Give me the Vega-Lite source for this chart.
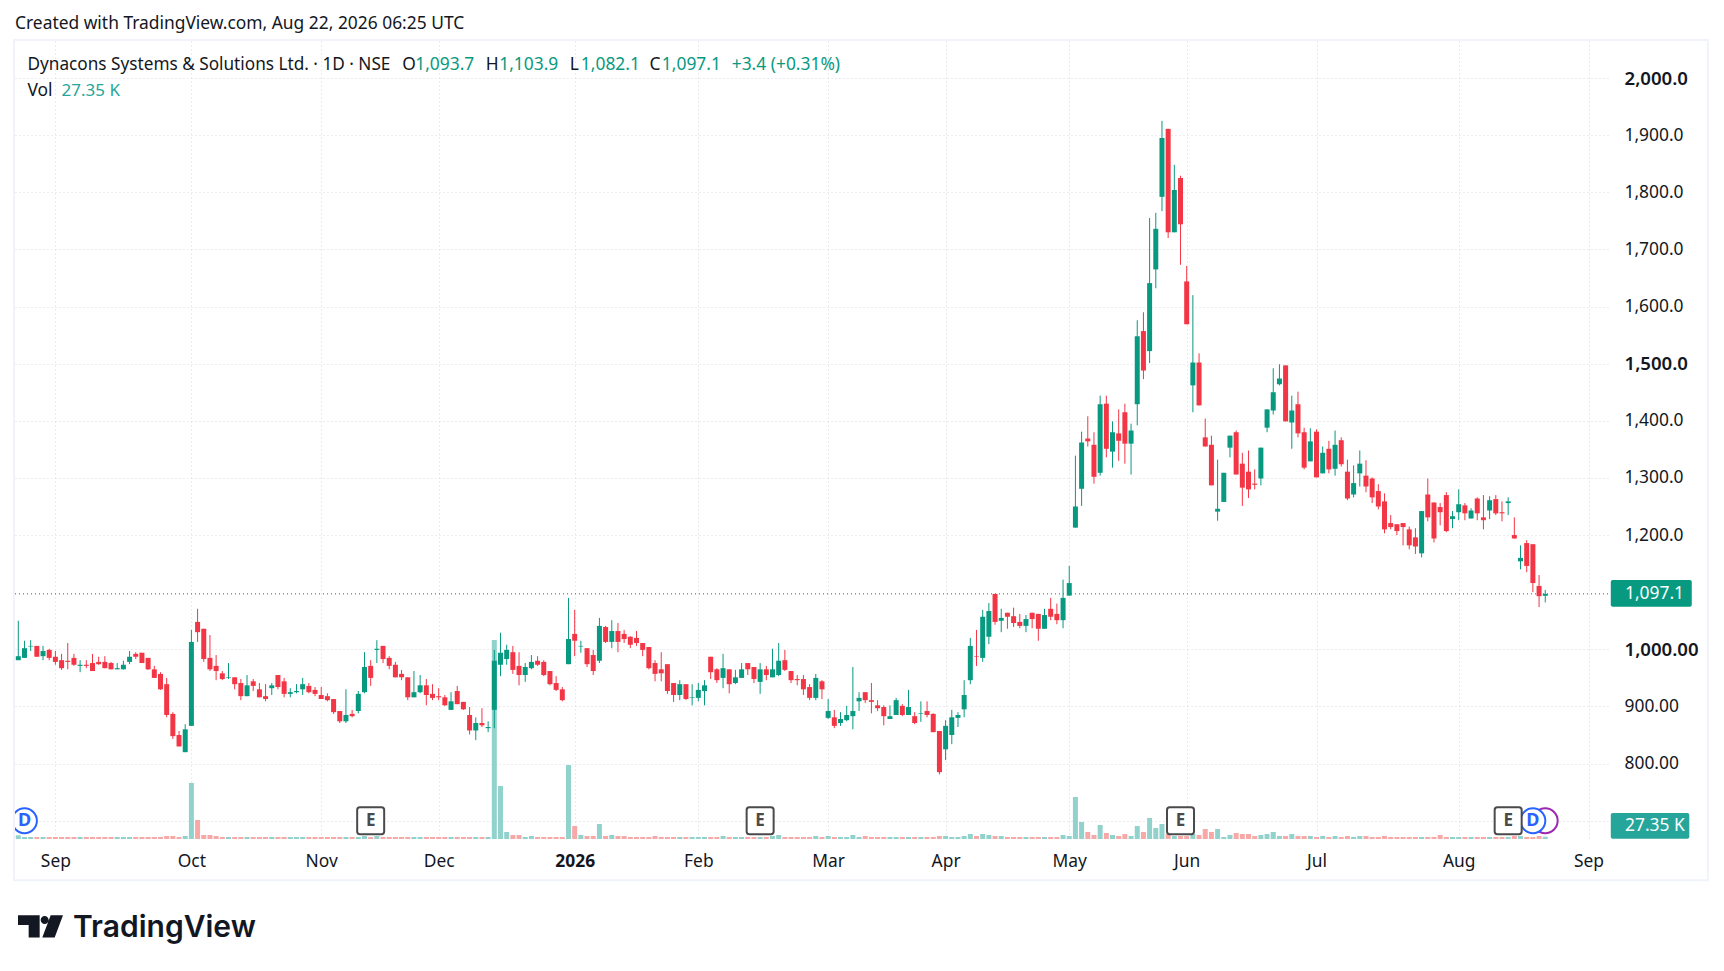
{"$schema":"https://vega.github.io/schema/vega-lite/v6.json",
"width":1593,"height":798,"autosize":{"type":"none"},"padding":{"left":15,"top":41,"right":116,"bottom":132},
"background":"white","view":{"stroke":null},
"config":{"text":{"font":"Noto Sans","fontSize":17.4,"baseline":"middle","align":"left"}},
"title":{"text":"Created with TradingView.com, Aug 22, 2026 06:25 UTC","anchor":"start","frame":"group","font":"Noto Sans","fontSize":17.4,"fontWeight":"normal","color":"#131722","offset":7},
"datasets":{
"ohlc":[
{"i":0,"open":981,"high":1050,"low":981,"close":988,"vol":44},
{"i":1,"open":985,"high":1015,"low":985,"close":1002,"vol":24},
{"i":2,"open":1005,"high":1016,"low":997,"close":1006,"vol":24},
{"i":3,"open":1006,"high":1006,"low":987,"close":987,"vol":24},
{"i":4,"open":988,"high":1006,"low":981,"close":997,"vol":24},
{"i":5,"open":999,"high":1001,"low":981,"close":985,"vol":24},
{"i":6,"open":987,"high":997,"low":973,"close":978,"vol":24},
{"i":7,"open":981,"high":992,"low":964,"close":967,"vol":24},
{"i":8,"open":980,"high":1011,"low":965,"close":978,"vol":24},
{"i":9,"open":985,"high":992,"low":971,"close":973,"vol":24},
{"i":10,"open":971,"high":981,"low":960,"close":973,"vol":24},
{"i":11,"open":973,"high":981,"low":967,"close":971,"vol":24},
{"i":12,"open":976,"high":992,"low":962,"close":962,"vol":24},
{"i":13,"open":978,"high":987,"low":973,"close":974,"vol":24},
{"i":14,"open":978,"high":988,"low":967,"close":967,"vol":24},
{"i":15,"open":976,"high":978,"low":965,"close":965,"vol":24},
{"i":16,"open":965,"high":976,"low":965,"close":967,"vol":24},
{"i":17,"open":965,"high":980,"low":965,"close":973,"vol":24},
{"i":18,"open":978,"high":997,"low":974,"close":987,"vol":24},
{"i":19,"open":992,"high":995,"low":983,"close":987,"vol":24},
{"i":20,"open":994,"high":994,"low":976,"close":976,"vol":24},
{"i":21,"open":985,"high":985,"low":964,"close":965,"vol":24},
{"i":22,"open":965,"high":971,"low":950,"close":950,"vol":24},
{"i":23,"open":957,"high":960,"low":929,"close":930,"vol":24},
{"i":24,"open":939,"high":950,"low":881,"close":885,"vol":36},
{"i":25,"open":887,"high":890,"low":843,"close":848,"vol":36},
{"i":26,"open":850,"high":857,"low":830,"close":830,"vol":24},
{"i":27,"open":820,"high":869,"low":820,"close":860,"vol":36},
{"i":28,"open":866,"high":1034,"low":866,"close":1013,"vol":672},
{"i":29,"open":1048,"high":1071,"low":1013,"close":1030,"vol":228},
{"i":30,"open":1036,"high":1036,"low":978,"close":983,"vol":48},
{"i":31,"open":985,"high":1025,"low":962,"close":965,"vol":48},
{"i":32,"open":971,"high":990,"low":946,"close":962,"vol":36},
{"i":33,"open":958,"high":962,"low":946,"close":948,"vol":24},
{"i":34,"open":950,"high":976,"low":948,"close":951,"vol":24},
{"i":35,"open":951,"high":951,"low":930,"close":939,"vol":24},
{"i":36,"open":941,"high":948,"low":911,"close":918,"vol":24},
{"i":37,"open":918,"high":955,"low":918,"close":937,"vol":24},
{"i":38,"open":944,"high":948,"low":927,"close":936,"vol":24},
{"i":39,"open":930,"high":941,"low":916,"close":916,"vol":24},
{"i":40,"open":918,"high":939,"low":909,"close":913,"vol":24},
{"i":41,"open":932,"high":941,"low":920,"close":937,"vol":24},
{"i":42,"open":955,"high":955,"low":930,"close":934,"vol":24},
{"i":43,"open":944,"high":950,"low":916,"close":922,"vol":24},
{"i":44,"open":922,"high":932,"low":916,"close":925,"vol":24},
{"i":45,"open":925,"high":939,"low":923,"close":927,"vol":24},
{"i":46,"open":930,"high":950,"low":920,"close":939,"vol":24},
{"i":47,"open":936,"high":941,"low":923,"close":925,"vol":24},
{"i":48,"open":929,"high":934,"low":918,"close":922,"vol":24},
{"i":49,"open":920,"high":934,"low":913,"close":913,"vol":24},
{"i":50,"open":918,"high":923,"low":909,"close":911,"vol":24},
{"i":51,"open":913,"high":913,"low":887,"close":890,"vol":24},
{"i":52,"open":892,"high":892,"low":871,"close":874,"vol":24},
{"i":53,"open":874,"high":930,"low":871,"close":885,"vol":24},
{"i":54,"open":887,"high":894,"low":881,"close":883,"vol":24},
{"i":55,"open":892,"high":927,"low":888,"close":922,"vol":24},
{"i":56,"open":925,"high":995,"low":923,"close":969,"vol":36},
{"i":57,"open":971,"high":981,"low":936,"close":950,"vol":24},
{"i":58,"open":999,"high":1016,"low":976,"close":1001,"vol":36},
{"i":59,"open":1006,"high":1006,"low":976,"close":983,"vol":24},
{"i":60,"open":985,"high":988,"low":965,"close":971,"vol":24},
{"i":61,"open":973,"high":978,"low":951,"close":951,"vol":24},
{"i":62,"open":957,"high":964,"low":946,"close":951,"vol":24},
{"i":63,"open":951,"high":951,"low":911,"close":916,"vol":24},
{"i":64,"open":916,"high":962,"low":916,"close":925,"vol":24},
{"i":65,"open":925,"high":955,"low":923,"close":937,"vol":24},
{"i":66,"open":937,"high":948,"low":902,"close":920,"vol":24},
{"i":67,"open":922,"high":939,"low":911,"close":915,"vol":24},
{"i":68,"open":918,"high":932,"low":911,"close":916,"vol":24},
{"i":69,"open":916,"high":920,"low":901,"close":902,"vol":24},
{"i":70,"open":894,"high":925,"low":894,"close":909,"vol":24},
{"i":71,"open":927,"high":936,"low":904,"close":904,"vol":24},
{"i":72,"open":908,"high":908,"low":894,"close":895,"vol":24},
{"i":73,"open":885,"high":899,"low":851,"close":858,"vol":24},
{"i":74,"open":858,"high":881,"low":841,"close":871,"vol":24},
{"i":75,"open":871,"high":897,"low":864,"close":867,"vol":24},
{"i":76,"open":862,"high":874,"low":855,"close":864,"vol":24},
{"i":77,"open":894,"high":999,"low":862,"close":980,"vol":2388},
{"i":78,"open":973,"high":1029,"low":953,"close":994,"vol":636},
{"i":79,"open":983,"high":1008,"low":973,"close":999,"vol":84},
{"i":80,"open":995,"high":1006,"low":957,"close":964,"vol":48},
{"i":81,"open":971,"high":995,"low":937,"close":955,"vol":48},
{"i":82,"open":955,"high":976,"low":943,"close":969,"vol":24},
{"i":83,"open":967,"high":990,"low":965,"close":978,"vol":36},
{"i":84,"open":980,"high":988,"low":971,"close":973,"vol":24},
{"i":85,"open":978,"high":981,"low":953,"close":955,"vol":24},
{"i":86,"open":962,"high":962,"low":937,"close":939,"vol":24},
{"i":87,"open":941,"high":953,"low":927,"close":929,"vol":24},
{"i":88,"open":930,"high":934,"low":909,"close":911,"vol":24},
{"i":89,"open":974,"high":1090,"low":974,"close":1018,"vol":888},
{"i":90,"open":1027,"high":1069,"low":988,"close":1015,"vol":156},
{"i":91,"open":1005,"high":1015,"low":994,"close":1006,"vol":48},
{"i":92,"open":1002,"high":1002,"low":969,"close":974,"vol":36},
{"i":93,"open":990,"high":999,"low":955,"close":962,"vol":36},
{"i":94,"open":980,"high":1055,"low":976,"close":1041,"vol":180},
{"i":95,"open":1039,"high":1041,"low":1011,"close":1013,"vol":36},
{"i":96,"open":1013,"high":1051,"low":1002,"close":1032,"vol":48},
{"i":97,"open":1032,"high":1046,"low":995,"close":1013,"vol":36},
{"i":98,"open":1027,"high":1034,"low":1011,"close":1018,"vol":36},
{"i":99,"open":1022,"high":1023,"low":1002,"close":1008,"vol":24},
{"i":100,"open":1020,"high":1032,"low":1006,"close":1011,"vol":24},
{"i":101,"open":1011,"high":1011,"low":988,"close":999,"vol":24},
{"i":102,"open":1004,"high":1004,"low":965,"close":967,"vol":24},
{"i":103,"open":976,"high":981,"low":944,"close":957,"vol":36},
{"i":104,"open":965,"high":995,"low":944,"close":958,"vol":24},
{"i":105,"open":974,"high":974,"low":922,"close":927,"vol":24},
{"i":106,"open":941,"high":941,"low":908,"close":920,"vol":24},
{"i":107,"open":920,"high":946,"low":911,"close":939,"vol":24},
{"i":108,"open":939,"high":939,"low":911,"close":913,"vol":24},
{"i":109,"open":915,"high":939,"low":902,"close":916,"vol":24},
{"i":110,"open":915,"high":941,"low":909,"close":929,"vol":24},
{"i":111,"open":927,"high":946,"low":902,"close":937,"vol":24},
{"i":112,"open":987,"high":987,"low":948,"close":960,"vol":24},
{"i":113,"open":965,"high":967,"low":941,"close":946,"vol":24},
{"i":114,"open":950,"high":992,"low":932,"close":967,"vol":36},
{"i":115,"open":965,"high":965,"low":923,"close":939,"vol":24},
{"i":116,"open":941,"high":964,"low":939,"close":951,"vol":24},
{"i":117,"open":950,"high":976,"low":950,"close":965,"vol":24},
{"i":118,"open":976,"high":976,"low":955,"close":965,"vol":24},
{"i":119,"open":969,"high":969,"low":941,"close":948,"vol":24},
{"i":120,"open":943,"high":976,"low":922,"close":965,"vol":24},
{"i":121,"open":965,"high":971,"low":946,"close":955,"vol":24},
{"i":122,"open":951,"high":1001,"low":951,"close":965,"vol":36},
{"i":123,"open":955,"high":1011,"low":953,"close":980,"vol":48},
{"i":124,"open":981,"high":999,"low":962,"close":964,"vol":24},
{"i":125,"open":962,"high":962,"low":941,"close":946,"vol":24},
{"i":126,"open":948,"high":955,"low":937,"close":946,"vol":24},
{"i":127,"open":948,"high":955,"low":920,"close":930,"vol":24},
{"i":128,"open":934,"high":939,"low":911,"close":915,"vol":24},
{"i":129,"open":915,"high":957,"low":911,"close":950,"vol":36},
{"i":130,"open":944,"high":946,"low":913,"close":930,"vol":24},
{"i":131,"open":880,"high":913,"low":878,"close":892,"vol":36},
{"i":132,"open":881,"high":894,"low":862,"close":866,"vol":24},
{"i":133,"open":871,"high":890,"low":866,"close":878,"vol":24},
{"i":134,"open":876,"high":901,"low":874,"close":885,"vol":24},
{"i":135,"open":883,"high":969,"low":860,"close":892,"vol":48},
{"i":136,"open":909,"high":925,"low":892,"close":915,"vol":24},
{"i":137,"open":925,"high":925,"low":906,"close":911,"vol":36},
{"i":138,"open":911,"high":941,"low":888,"close":908,"vol":24},
{"i":139,"open":902,"high":911,"low":892,"close":897,"vol":24},
{"i":140,"open":899,"high":902,"low":867,"close":883,"vol":24},
{"i":141,"open":878,"high":902,"low":878,"close":883,"vol":24},
{"i":142,"open":885,"high":915,"low":885,"close":911,"vol":24},
{"i":143,"open":901,"high":904,"low":883,"close":885,"vol":24},
{"i":144,"open":885,"high":929,"low":885,"close":899,"vol":24},
{"i":145,"open":883,"high":890,"low":869,"close":871,"vol":24},
{"i":146,"open":887,"high":909,"low":873,"close":888,"vol":24},
{"i":147,"open":892,"high":909,"low":881,"close":885,"vol":24},
{"i":148,"open":887,"high":888,"low":855,"close":855,"vol":24},
{"i":149,"open":857,"high":857,"low":781,"close":785,"vol":36},
{"i":150,"open":825,"high":876,"low":806,"close":866,"vol":36},
{"i":151,"open":850,"high":894,"low":834,"close":881,"vol":24},
{"i":152,"open":880,"high":890,"low":864,"close":885,"vol":24},
{"i":153,"open":895,"high":946,"low":881,"close":920,"vol":36},
{"i":154,"open":946,"high":1020,"low":939,"close":1006,"vol":60},
{"i":155,"open":988,"high":1034,"low":971,"close":987,"vol":36},
{"i":156,"open":985,"high":1069,"low":978,"close":1057,"vol":60},
{"i":157,"open":1022,"high":1081,"low":1009,"close":1067,"vol":48},
{"i":158,"open":1097,"high":1097,"low":1043,"close":1048,"vol":36},
{"i":159,"open":1050,"high":1071,"low":1030,"close":1055,"vol":36},
{"i":160,"open":1064,"high":1064,"low":1036,"close":1057,"vol":24},
{"i":161,"open":1058,"high":1073,"low":1039,"close":1046,"vol":24},
{"i":162,"open":1048,"high":1062,"low":1037,"close":1041,"vol":24},
{"i":163,"open":1041,"high":1060,"low":1030,"close":1053,"vol":24},
{"i":164,"open":1064,"high":1064,"low":1037,"close":1053,"vol":24},
{"i":165,"open":1062,"high":1062,"low":1015,"close":1036,"vol":24},
{"i":166,"open":1036,"high":1071,"low":1036,"close":1060,"vol":24},
{"i":167,"open":1071,"high":1090,"low":1051,"close":1057,"vol":24},
{"i":168,"open":1062,"high":1080,"low":1044,"close":1051,"vol":24},
{"i":169,"open":1051,"high":1122,"low":1037,"close":1090,"vol":48},
{"i":170,"open":1094,"high":1146,"low":1094,"close":1116,"vol":36},
{"i":171,"open":1213,"high":1339,"low":1213,"close":1250,"vol":504},
{"i":172,"open":1281,"high":1381,"low":1251,"close":1362,"vol":204},
{"i":173,"open":1369,"high":1408,"low":1355,"close":1364,"vol":84},
{"i":174,"open":1358,"high":1380,"low":1290,"close":1302,"vol":48},
{"i":175,"open":1309,"high":1444,"low":1304,"close":1429,"vol":168},
{"i":176,"open":1430,"high":1444,"low":1336,"close":1351,"vol":72},
{"i":177,"open":1346,"high":1399,"low":1318,"close":1380,"vol":48},
{"i":178,"open":1378,"high":1420,"low":1330,"close":1365,"vol":36},
{"i":179,"open":1415,"high":1430,"low":1325,"close":1360,"vol":60},
{"i":180,"open":1360,"high":1395,"low":1306,"close":1383,"vol":36},
{"i":181,"open":1429,"high":1576,"low":1392,"close":1548,"vol":156},
{"i":182,"open":1557,"high":1590,"low":1473,"close":1488,"vol":84},
{"i":183,"open":1522,"high":1755,"low":1501,"close":1641,"vol":252},
{"i":184,"open":1665,"high":1764,"low":1632,"close":1736,"vol":132},
{"i":185,"open":1792,"high":1925,"low":1767,"close":1895,"vol":180},
{"i":186,"open":1911,"high":1911,"low":1720,"close":1730,"vol":60},
{"i":187,"open":1730,"high":1848,"low":1730,"close":1804,"vol":36},
{"i":188,"open":1825,"high":1829,"low":1673,"close":1744,"vol":36},
{"i":189,"open":1644,"high":1671,"low":1569,"close":1569,"vol":36},
{"i":190,"open":1462,"high":1620,"low":1415,"close":1502,"vol":60},
{"i":191,"open":1502,"high":1518,"low":1427,"close":1427,"vol":48},
{"i":192,"open":1371,"high":1404,"low":1355,"close":1355,"vol":120},
{"i":193,"open":1358,"high":1374,"low":1287,"close":1287,"vol":84},
{"i":194,"open":1241,"high":1332,"low":1225,"close":1246,"vol":120},
{"i":195,"open":1258,"high":1309,"low":1258,"close":1309,"vol":24},
{"i":196,"open":1353,"high":1374,"low":1336,"close":1374,"vol":48},
{"i":197,"open":1380,"high":1383,"low":1306,"close":1306,"vol":72},
{"i":198,"open":1325,"high":1344,"low":1251,"close":1283,"vol":60},
{"i":199,"open":1311,"high":1348,"low":1265,"close":1280,"vol":60},
{"i":200,"open":1290,"high":1315,"low":1280,"close":1288,"vol":36},
{"i":201,"open":1299,"high":1353,"low":1287,"close":1353,"vol":48},
{"i":202,"open":1388,"high":1420,"low":1380,"close":1420,"vol":60},
{"i":203,"open":1418,"high":1492,"low":1411,"close":1450,"vol":84},
{"i":204,"open":1464,"high":1499,"low":1462,"close":1474,"vol":36},
{"i":205,"open":1497,"high":1497,"low":1399,"close":1399,"vol":36},
{"i":206,"open":1397,"high":1444,"low":1351,"close":1418,"vol":60},
{"i":207,"open":1429,"high":1451,"low":1371,"close":1378,"vol":36},
{"i":208,"open":1380,"high":1388,"low":1315,"close":1318,"vol":36},
{"i":209,"open":1329,"high":1387,"low":1329,"close":1364,"vol":36},
{"i":210,"open":1381,"high":1385,"low":1301,"close":1301,"vol":24},
{"i":211,"open":1308,"high":1355,"low":1308,"close":1344,"vol":36},
{"i":212,"open":1351,"high":1365,"low":1308,"close":1315,"vol":24},
{"i":213,"open":1316,"high":1383,"low":1304,"close":1358,"vol":36},
{"i":214,"open":1366,"high":1371,"low":1320,"close":1324,"vol":24},
{"i":215,"open":1311,"high":1332,"low":1261,"close":1264,"vol":36},
{"i":216,"open":1271,"high":1322,"low":1266,"close":1291,"vol":24},
{"i":217,"open":1308,"high":1348,"low":1285,"close":1325,"vol":36},
{"i":218,"open":1304,"high":1331,"low":1275,"close":1285,"vol":36},
{"i":219,"open":1299,"high":1301,"low":1256,"close":1266,"vol":24},
{"i":220,"open":1277,"high":1289,"low":1245,"close":1250,"vol":24},
{"i":221,"open":1259,"high":1273,"low":1203,"close":1210,"vol":36},
{"i":222,"open":1221,"high":1235,"low":1210,"close":1214,"vol":24},
{"i":223,"open":1219,"high":1219,"low":1200,"close":1207,"vol":24},
{"i":224,"open":1221,"high":1221,"low":1182,"close":1214,"vol":24},
{"i":225,"open":1210,"high":1215,"low":1175,"close":1182,"vol":24},
{"i":226,"open":1196,"high":1212,"low":1167,"close":1180,"vol":24},
{"i":227,"open":1168,"high":1242,"low":1161,"close":1242,"vol":24},
{"i":228,"open":1271,"high":1299,"low":1224,"close":1231,"vol":24},
{"i":229,"open":1257,"high":1257,"low":1187,"close":1194,"vol":24},
{"i":230,"open":1249,"high":1256,"low":1217,"close":1240,"vol":48},
{"i":231,"open":1270,"high":1275,"low":1205,"close":1207,"vol":24},
{"i":232,"open":1228,"high":1242,"low":1212,"close":1233,"vol":24},
{"i":233,"open":1240,"high":1280,"low":1226,"close":1254,"vol":24},
{"i":234,"open":1252,"high":1256,"low":1226,"close":1238,"vol":24},
{"i":235,"open":1229,"high":1247,"low":1229,"close":1243,"vol":24},
{"i":236,"open":1264,"high":1266,"low":1226,"close":1238,"vol":24},
{"i":237,"open":1231,"high":1270,"low":1210,"close":1226,"vol":24},
{"i":238,"open":1243,"high":1268,"low":1228,"close":1261,"vol":24},
{"i":239,"open":1263,"high":1270,"low":1235,"close":1238,"vol":24},
{"i":240,"open":1240,"high":1259,"low":1224,"close":1238,"vol":24},
{"i":241,"open":1256,"high":1266,"low":1235,"close":1259,"vol":24},
{"i":242,"open":1200,"high":1231,"low":1194,"close":1194,"vol":36},
{"i":243,"open":1154,"high":1182,"low":1140,"close":1160,"vol":36},
{"i":244,"open":1186,"high":1191,"low":1135,"close":1146,"vol":24},
{"i":245,"open":1184,"high":1184,"low":1100,"close":1116,"vol":24},
{"i":246,"open":1111,"high":1130,"low":1074,"close":1093,"vol":36},
{"i":247,"open":1093.7,"high":1103.9,"low":1082.1,"close":1097.1,"vol":27.35}
],
"events":[{"i":1,"kind":"D"},{"i":57,"kind":"E"},{"i":120,"kind":"E"},{"i":188,"kind":"E"},{"i":241,"kind":"E"},{"i":245,"kind":"D"},{"i":247,"kind":"P"}]
},
"layer":[
{"data":{"name":"ohlc"},"mark":{"type":"bar","size":5,"orient":"vertical","clip":true},
"encoding":{"x":{"field":"i","type":"quantitative","title":null,"scale":{"domain":[-0.534,257.15],"nice":false,"zero":false,"padding":0},
"axis":{"values":[6,28,49,68,90,110,131,150,170,189,210,233,254],
"labelExpr":"{'6':'Sep','28':'Oct','49':'Nov','68':'Dec','90':'2026','110':'Feb','131':'Mar','150':'Apr','170':'May','189':'Jun','210':'Jul','233':'Aug','254':'Sep'}[datum.value]",
"labelFont":"Noto Sans","labelFontSize":17.4,"labelColor":"#131722","labelPadding":13,"labelFontWeight":{"expr":"datum.value==90?'bold':'normal'"},"labelFlush":false,"labelOverlap":false,
"ticks":false,"domain":false,"grid":true,"gridColor":"#d6d8de","gridDash":[1,3],"gridWidth":1}},
"y":{"field":"vol","type":"quantitative","stack":null,"scale":{"domain":[0,9576],"nice":false},"axis":null},
"color":{"condition":{"test":"datum.close>=datum.open","value":"#92d2cc"},"value":"#f7a9a7"}}},
{"layer":[
{"data":{"values":[{"v":1}]},"mark":{"type":"rect","fill":null,"stroke":"#f0f3fa","strokeWidth":2,"clip":false},
"encoding":{"x":{"datum":-0.7},"x2":{"datum":273.3},"y":{"datum":2066.5},"y2":{"datum":596}}},
{"data":{"values":[{"last":1097.1}]},"mark":{"type":"rule","color":"#067a67","strokeDash":[1,3],"strokeWidth":1},
"encoding":{"x":{"datum":-0.534},"x2":{"datum":257.15},"y":{"field":"last","type":"quantitative","title":null}}},
{"data":{"name":"ohlc"},"mark":{"type":"rule","strokeWidth":1,"clip":true},
"encoding":{"x":{"field":"i","type":"quantitative","title":null},"y":{"field":"low","type":"quantitative","title":null,"scale":{"domain":[668,2064.8],"nice":false,"zero":false},
"axis":{"orient":"right","values":[700,800,900,1000,1200,1300,1400,1500,1600,1700,1800,1900,2000],
"labelExpr":"datum.value==700?'':datum.value>=1100?format(datum.value,',.1f'):datum.value==1000?'1,000.00':format(datum.value,'.2f')",
"labelFont":"Noto Sans","labelFontSize":{"expr":"datum.value%500==0?18.6:17.4"},"labelColor":"#131722","labelFontWeight":{"expr":"datum.value%500==0?600:'normal'"},"labelPadding":16,"labelAlign":"left","ticks":false,"domain":false,"grid":true,"gridColor":"#d6d8de","gridDash":[1,3],"gridWidth":1}},
"y2":{"field":"high"},
"color":{"condition":{"test":"datum.close>=datum.open","value":"#089981"},"value":"#f23645"}}},
{"data":{"name":"ohlc"},"mark":{"type":"bar","size":5,"orient":"vertical","clip":true},
"encoding":{"x":{"field":"i","type":"quantitative","title":null},"y":{"field":"open","type":"quantitative","title":null},"y2":{"field":"close"},
"color":{"condition":{"test":"datum.close>=datum.open","value":"#089981"},"value":"#f23645"}}},
{"data":{"name":"events"},"transform":[{"filter":"datum.kind=='P'"}],"mark":{"type":"point","shape":"circle","size":616,"fill":"white","stroke":"#9c27b0","strokeWidth":2,"opacity":1,"clip":true},
"encoding":{"x":{"field":"i","type":"quantitative","title":null},"y":{"datum":700}}},
{"data":{"name":"events"},"transform":[{"filter":"datum.kind=='D'"}],"mark":{"type":"point","shape":"circle","size":616,"fill":"white","stroke":"#2962ff","strokeWidth":2,"opacity":1,"clip":true},
"encoding":{"x":{"field":"i","type":"quantitative","title":null},"y":{"datum":700}}},
{"data":{"name":"events"},"transform":[{"filter":"datum.kind=='D'"}],"mark":{"type":"text","align":"center","color":"#2962ff","fontSize":18,"fontWeight":"bold","clip":true},
"encoding":{"x":{"field":"i","type":"quantitative","title":null},"y":{"datum":700},"text":{"field":"kind"}}},
{"data":{"name":"events"},"transform":[{"filter":"datum.kind=='E'"}],"mark":{"type":"point","shape":"M-0.8,-1H0.8Q1,-1 1,-0.8V0.8Q1,1 0.8,1H-0.8Q-1,1 -1,0.8V-0.8Q-1,-1 -0.8,-1Z","size":729,"fill":"white","stroke":"#4a4a4a","strokeWidth":2,"opacity":1},
"encoding":{"x":{"field":"i","type":"quantitative","title":null},"y":{"datum":700}}},
{"data":{"name":"events"},"transform":[{"filter":"datum.kind=='E'"}],"mark":{"type":"text","align":"center","color":"#4a4a4a","fontSize":17,"fontWeight":"bold"},
"encoding":{"x":{"field":"i","type":"quantitative","title":null},"y":{"datum":700},"text":{"field":"kind"}}},
{"data":{"values":[{"t":"Dynacons Systems & Solutions Ltd. · 1D · NSE"}]},"mark":{"type":"text","color":"#131722","fontSize":17.2},"encoding":{"x":{"datum":1.49},"y":{"datum":2022},"text":{"field":"t"}}},
{"data":{"values":[{"t":"O"}]},"mark":{"type":"text","color":"#131722"},"encoding":{"x":{"datum":62.1},"y":{"datum":2022},"text":{"field":"t"}}},
{"data":{"values":[{"t":"1,093.7"}]},"mark":{"type":"text","color":"#089981"},"encoding":{"x":{"datum":64.2},"y":{"datum":2022},"text":{"field":"t"}}},
{"data":{"values":[{"t":"H"}]},"mark":{"type":"text","color":"#131722"},"encoding":{"x":{"datum":75.6},"y":{"datum":2022},"text":{"field":"t"}}},
{"data":{"values":[{"t":"1,103.9"}]},"mark":{"type":"text","color":"#089981"},"encoding":{"x":{"datum":77.8},"y":{"datum":2022},"text":{"field":"t"}}},
{"data":{"values":[{"t":"L"}]},"mark":{"type":"text","color":"#131722"},"encoding":{"x":{"datum":89.2},"y":{"datum":2022},"text":{"field":"t"}}},
{"data":{"values":[{"t":"1,082.1"}]},"mark":{"type":"text","color":"#089981"},"encoding":{"x":{"datum":91},"y":{"datum":2022},"text":{"field":"t"}}},
{"data":{"values":[{"t":"C"}]},"mark":{"type":"text","color":"#131722"},"encoding":{"x":{"datum":102.1},"y":{"datum":2022},"text":{"field":"t"}}},
{"data":{"values":[{"t":"1,097.1"}]},"mark":{"type":"text","color":"#089981"},"encoding":{"x":{"datum":104.1},"y":{"datum":2022},"text":{"field":"t"}}},
{"data":{"values":[{"t":"+3.4 (+0.31%)"}]},"mark":{"type":"text","color":"#089981"},"encoding":{"x":{"datum":115.4},"y":{"datum":2022},"text":{"field":"t"}}},
{"data":{"values":[{"t":"Vol"}]},"mark":{"type":"text","color":"#131722"},"encoding":{"x":{"datum":1.49},"y":{"datum":1977},"text":{"field":"t"}}},
{"data":{"values":[{"t":"27.35 K"}]},"mark":{"type":"text","color":"#26a69a","fontSize":17},"encoding":{"x":{"datum":7},"y":{"datum":1977},"text":{"field":"t"}}},
{"data":{"values":[{"v":1}]},"mark":{"type":"rect","fill":"#089981","cornerRadius":2,"clip":false},
"encoding":{"x":{"datum":257.6},"x2":{"datum":270.7},"y":{"datum":1121.3},"y2":{"datum":1074.6}}},
{"data":{"values":[{"v":1}]},"mark":{"type":"rect","fill":"#26a69a","cornerRadius":2,"clip":false},
"encoding":{"x":{"datum":257.6},"x2":{"datum":270.3},"y":{"datum":713.5},"y2":{"datum":668.5}}},
{"data":{"values":[{"t":"1,097.1"}]},"mark":{"type":"text","color":"white"},"encoding":{"x":{"datum":259.9},"y":{"datum":1097.1},"text":{"field":"t"}}},
{"data":{"values":[{"t":"27.35 K"}]},"mark":{"type":"text","color":"white"},"encoding":{"x":{"datum":259.9},"y":{"datum":691},"text":{"field":"t"}}},
{"data":{"values":[{"v":1}]},"mark":{"type":"point","shape":"M-1,-0.496H-0.037V0.496H-0.526V-0.067H-1ZM0.007,-0.289a0.178,0.178 0 1,0 0.356,0a0.178,0.178 0 1,0 -0.356,0ZM1,-0.496L0.63,0.496H0.081L0.452,-0.496Z","size":2025,"fill":"#131722","stroke":null,"opacity":1,"clip":false},
"encoding":{"x":{"datum":3.59},"y":{"datum":515}}},
{"data":{"values":[{"t":"TradingView"}]},"mark":{"type":"text","color":"#131722","font":"Inter","fontSize":30,"fontWeight":600},"encoding":{"x":{"datum":8.85},"y":{"datum":512.5},"text":{"field":"t"}}}
]}
],
"resolve":{"scale":{"y":"independent"}}
}
